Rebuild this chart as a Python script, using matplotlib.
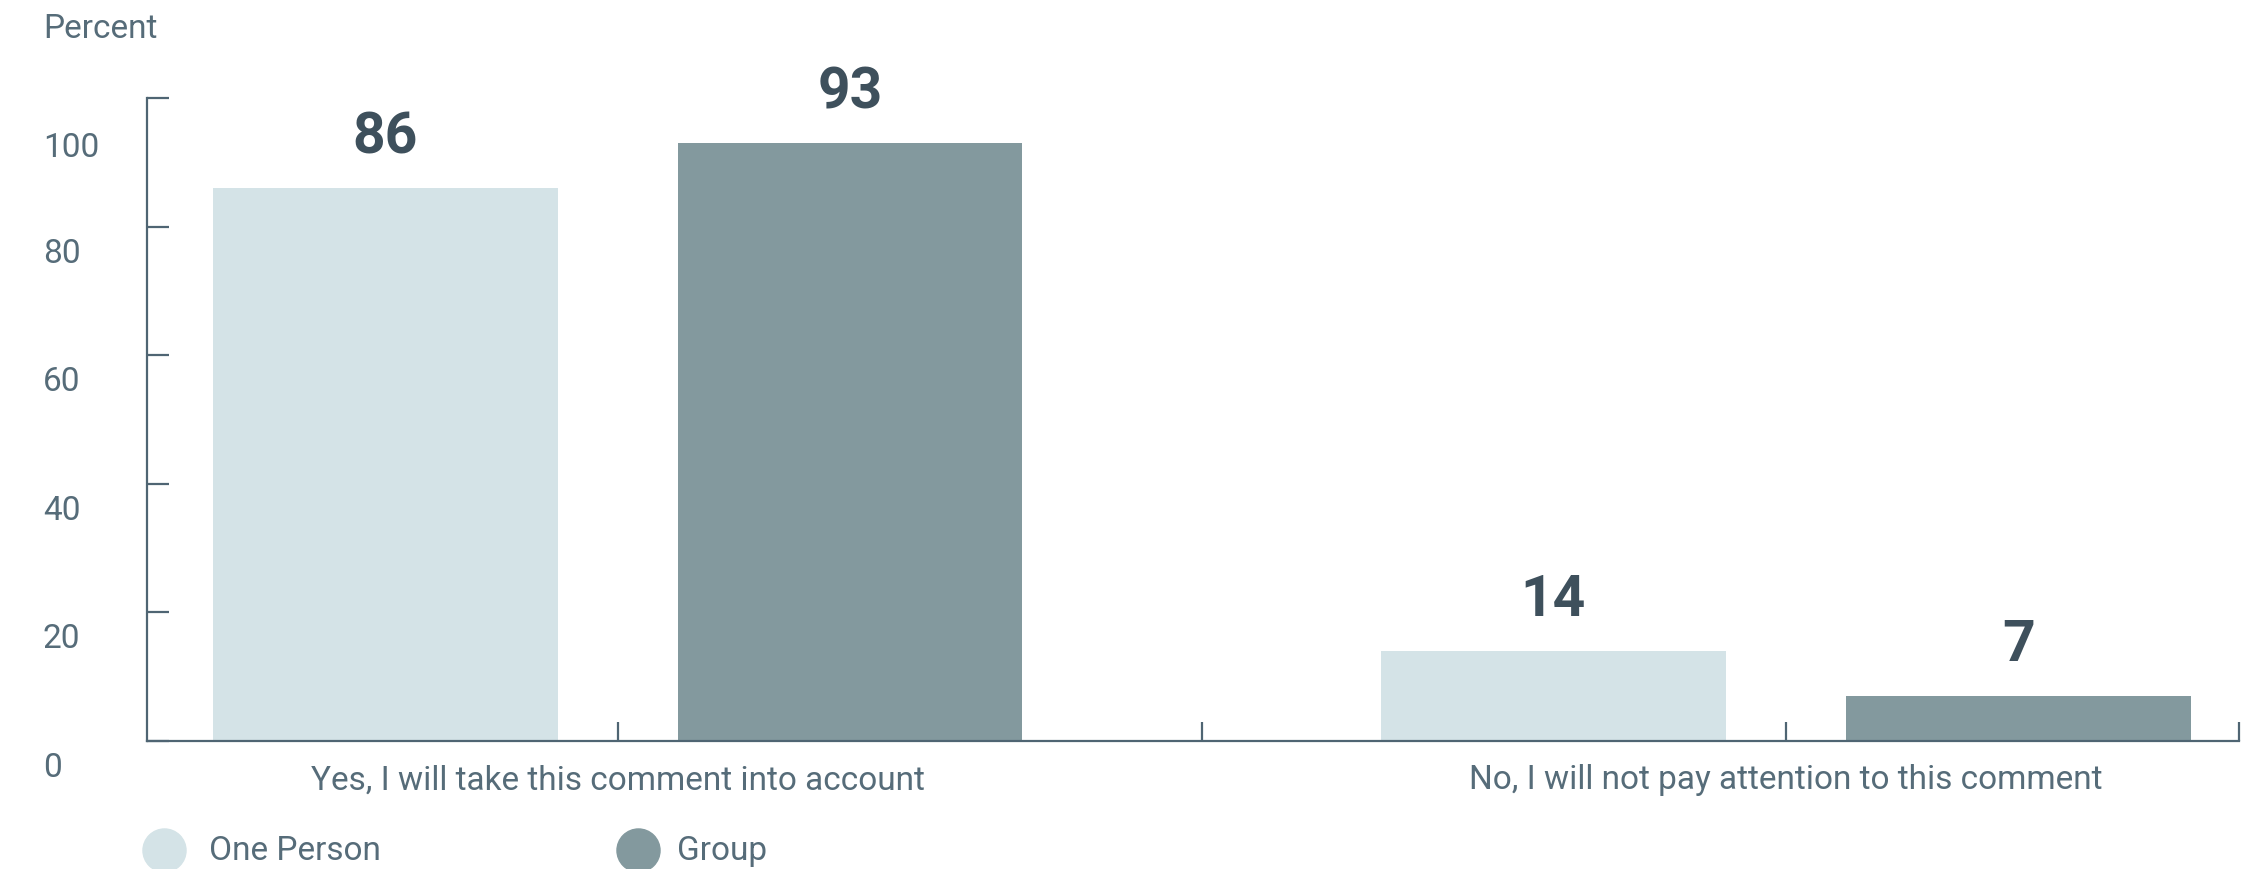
import matplotlib
matplotlib.use("Agg")
import matplotlib.pyplot as plt
import matplotlib.transforms as mtransforms
from matplotlib.lines import Line2D
import numpy as np

# Data
categories = ["Yes, I will take this comment into account",
              "No, I will not pay attention to this comment"]
series_names = ["One Person", "Group"]
one_person = [86, 14]
group = [93, 7]
y_ticks = [0, 20, 40, 60, 80, 100]

# Styles
LIGHT = "#d4e3e7"
DARK = "#83999e"
AXIS = "#4f6573"
TEXT = "#566c79"
VALUE = "#3e505c"
FONT = ["Roboto", "DejaVu Sans"]
FS = 24

plt.rcParams["font.family"] = FONT

W, H, DPI = 2258, 870, 100
fig = plt.figure(figsize=(W / DPI, H / DPI), dpi=DPI)
ax = fig.add_axes([147 / W, 1 - 742 / H, (2239 - 147) / W, (742 - 99) / H])

x = np.arange(len(categories))
bw = 0.295
off = 0.199
b1 = ax.bar(x - off, one_person, bw, color=LIGHT, zorder=2)
b2 = ax.bar(x + off, group, bw, color=DARK, zorder=2)

xmin, xmax = -0.403, 1.388
ax.set_xlim(xmin, xmax)
ax.set_ylim(0, 100)

for bars, vals in ((b1, one_person), (b2, group)):
    for rect, v in zip(bars, vals):
        ax.annotate(f"{v}", (rect.get_x() + rect.get_width() / 2, v),
                    xytext=(0, 37), textcoords="offset points",
                    ha="center", va="center", fontsize=41,
                    fontweight="bold", color=VALUE)

# Spines
for s in ("top", "right"):
    ax.spines[s].set_visible(False)
for s in ("left", "bottom"):
    ax.spines[s].set_color(AXIS)
    ax.spines[s].set_linewidth(1.6)

# Y ticks (inward), labels drawn as text on the left
ax.set_yticks(y_ticks)
ax.set_yticklabels([])
ax.tick_params(axis="y", direction="in", length=16, width=1.6, color=AXIS)
blend = mtransforms.blended_transform_factory(fig.transFigure, ax.transData)
for v in y_ticks:
    drop = 49 if v == y_ticks[-1] else 26
    tr = blend + mtransforms.ScaledTranslation(0, -drop / DPI, fig.dpi_scale_trans)
    ax.text(43 / W, v, str(v), transform=tr, ha="left", va="center",
            fontsize=FS, color=TEXT, clip_on=False)

# X ticks: group centres, group boundary and axis end
ax.set_xticks([0, 0.5, 1, xmax])
ax.set_xticklabels([categories[0], "", categories[1], ""])
ax.tick_params(axis="x", direction="in", length=14, width=1.6, color=AXIS,
               labelsize=FS, labelcolor=TEXT, pad=16)

fig.text(43 / W, 1 - 29 / H, "Percent", ha="left", va="center",
         fontsize=FS, color=TEXT)

# Legend
legend_items = [(164, 209, LIGHT), (638, 677, DARK)]
for (cx, tx, col), name in zip(legend_items, series_names):
    fig.add_artist(Line2D([cx / W], [1 - 851 / H], marker="o", markersize=31,
                          color=col, linestyle="", transform=fig.transFigure))
    fig.text(tx / W, 1 - 851 / H, name, ha="left", va="center",
             fontsize=FS, color=TEXT)

fig.savefig("out.png", dpi=DPI)
